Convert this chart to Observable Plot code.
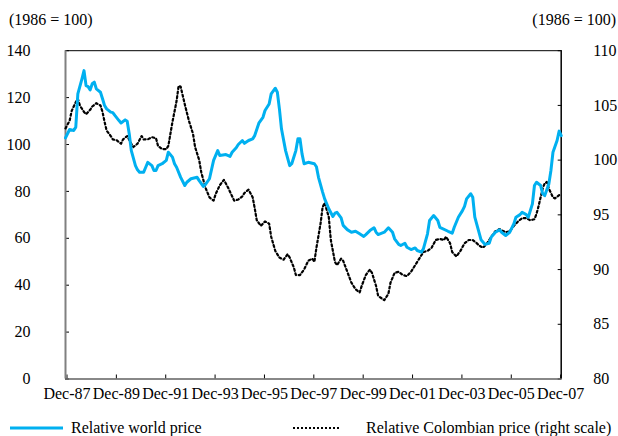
<!DOCTYPE html>
<html><head><meta charset="utf-8">
<script src="https://cdn.jsdelivr.net/npm/d3@7"></script>
<script src="https://cdn.jsdelivr.net/npm/@observablehq/plot@0.6"></script>
<style>
body{margin:0;background:#fff;font-family:"Liberation Serif","Times New Roman","DejaVu Serif",serif;font-size:16px;color:#000;}
#wrap{position:relative;width:618px;height:436px;overflow:hidden;background:#fff}
#head{position:relative;height:36px}
.unit{position:absolute;top:12px;line-height:1;white-space:nowrap}
#legend{position:relative;height:26px}
#legend span{position:absolute;top:10px;line-height:1;white-space:nowrap}
#legend svg{position:absolute;left:0;top:0}
svg text{font-family:"Liberation Serif","Times New Roman","DejaVu Serif",serif}
</style></head>
<body>
<div id="wrap">
  <div id="head"><span class="unit" style="left:9px">(1986 = 100)</span><span class="unit" style="right:2px">(1986 = 100)</span></div>
  <div id="chart"></div>
  <div id="legend">
    <svg width="618" height="26">
      <line x1="10" x2="63" y1="18" y2="18" stroke="#00B0F0" stroke-width="3"/>
      <line x1="293" x2="341" y1="18" y2="18" stroke="#000" stroke-width="2" stroke-dasharray="2,2"/>
    </svg>
    <span style="left:71px">Relative world price</span>
    <span style="left:366px">Relative Colombian price (right scale)</span>
  </div>
</div>
<script>
// month index: 0 = Dec-87
const xTickLabels = ["Dec-87","Dec-89","Dec-91","Dec-93","Dec-95","Dec-97","Dec-99","Dec-01","Dec-03","Dec-05","Dec-07"];
const leftTicks = [0,20,40,60,80,100,120,140];
const rightTicks = [80,85,90,95,100,105,110];

const worldMonth = [0,2,4,5,6,8,9,10,11,12,13,14,15,17,18,19,20,22,23,24,26,27,29,30,31,32,34,35,36,38,39,40,42,43,44,45,47,49,50,52,53,54,56,58,59,61,62,64,65,67,68,70,72,74,75,78,80,81,83,84,86,87,89,91,92,94,96,97,99,100,102,103,104,105,107,109,110,112,113,114,115,116,118,120,121,122,123,125,126,128,130,131,132,134,135,137,139,141,143,145,146,148,150,151,152,155,157,159,160,162,163,165,166,168,170,171,173,174,176,177,179,181,182,186,188,189,191,193,194,195,197,198,199,201,202,204,206,207,209,211,212,214,216,218,219,221,222,224,225,227,228,229,231,232,233,235,236,237,239,240,241];
const worldValue = [102.8,106.4,106,107.4,121.6,128,131.5,125.1,124.7,123.3,125.9,126.6,123.7,122.3,119.5,116.6,115.2,113.8,113.6,112.4,110.2,109.2,110.5,109.9,104.5,97.4,91,89.2,88.2,88.2,90.3,92.4,91,88.9,88.9,91,91.8,93.2,96.7,94.6,91.8,90.3,86,82.5,83.9,85.4,85.6,86,84.6,82.1,82.9,85.4,93.2,97.4,95.3,95.7,94.9,96.7,98.6,100,101.7,100.5,101.7,102.4,103.8,109.1,111.6,114.5,117.3,121.6,124,122.3,115.2,106.7,97.4,91,91.8,97.4,102.4,102.4,96,91.8,92.4,92,91.8,90.5,86,79.7,76.8,72.6,69.3,70.7,71.1,68.7,65.5,63.7,62.6,63,61.9,60.8,61.6,63.3,64.5,62.6,61.6,62.6,64.5,62.6,59.8,57.4,56.9,57.9,56.2,55.2,55.9,54.8,54.1,55.5,61.9,67.6,69.7,67.6,64.7,63,62.2,64.7,69,71.8,73.6,76.8,79,77.5,69,62.6,59.4,57.4,57.9,60.5,62.6,63.6,62.6,61.2,62.6,66.2,69,70.1,71.1,70.1,69,74.7,82.5,83.9,82.5,79,78.2,83.2,88.9,96.7,101.7,105.7,103.8];

const colMonth = [0,2,3,5,6,7,9,10,12,13,15,17,18,19,20,22,23,25,27,28,30,32,33,35,37,38,40,42,44,45,47,49,50,52,54,55,56,58,60,62,63,65,66,68,70,72,73,75,77,79,81,82,84,86,87,89,91,92,93,95,97,99,100,102,104,106,108,109,111,112,114,116,118,120,121,122,124,125,126,128,129,131,132,134,135,137,139,141,143,144,146,148,149,151,152,155,157,158,160,162,164,166,168,170,172,174,176,178,180,182,184,185,187,188,190,192,194,196,198,200,201,203,205,207,209,211,212,214,216,218,220,222,224,226,228,229,230,231,232,233,234,235,237,238,240,241];
const colValue = [102.9,103.6,104.5,105.3,105.6,105,104.4,104.2,104.6,104.9,105.2,105,104.4,103.5,102.7,102.2,101.9,101.8,101.5,101.9,102.2,101.5,101.2,101.5,102.2,101.9,101.9,102.1,102,101.3,101,101,101.3,103.5,105.4,106.8,106.7,105.1,103.6,102.4,101.2,100,98.9,97.5,96.6,96.3,96.9,97.7,98.2,97.5,96.7,96.3,96.4,96.7,97,97.3,96.6,95.6,94.5,94,94.4,94.2,93,91.7,91.1,90.9,91.4,91.1,90.2,89.5,89.5,90,90.8,91,90.7,92,94.2,95.7,96.1,94.8,92.7,90.7,90.4,91,90.8,89.8,88.8,88.2,87.9,88.5,89.5,90,89.7,88.5,87.6,87.2,87.8,88.8,89.7,89.8,89.5,89.4,89.8,90.4,91,91.6,91.7,92,92.7,92.8,92.7,93,92.4,91.6,91.2,91.7,92.4,92.7,92.7,92.4,92.2,92,92.4,93,93.5,93.7,93.6,93.4,93.5,94,94.4,94.7,94.7,94.5,94.6,95.1,95.8,96.6,97.4,97.9,98,97.4,96.6,96.5,96.8,96.8];

const k = 140 / 30; // right scale (80..110) onto left scale (0..140)
const toLeft = v => (v - 80) * k;
const world = worldMonth.map((m, i) => ({m, v: worldValue[i]}));
const col = colMonth.map((m, i) => ({m, v: toLeft(colValue[i])}));
const xTicks = xTickLabels.map((d, i) => i * 24);

const chart = Plot.plot({
  width: 618, height: 374,
  marginLeft: 65, marginRight: 57.3, marginTop: 14.2, marginBottom: 31.5,
  style: {fontFamily: "'Liberation Serif', 'Times New Roman', 'DejaVu Serif', serif", fontSize: "16px", color: "#000", background: "transparent", overflow: "visible"},
  x: {domain: [0, 241]},
  y: {domain: [0, 140]},
  marks: [
    Plot.axisY(leftTicks, {anchor: "left", tickSize: 4, insetLeft: 4, tickPadding: 35, label: null, tickFormat: d => d}),
    Plot.axisY(rightTicks.map(toLeft), {anchor: "right", tickSize: 4, insetRight: 4, tickPadding: 32, label: null, tickFormat: d => Math.round(d / k + 80)}),
    Plot.axisX(xTicks, {anchor: "bottom", tickSize: 4, insetBottom: 4, tickPadding: 8.6, label: null, dx: 1.5, tickFormat: d => xTickLabels[d / 24]}),
    Plot.ruleY([140], {stroke: "#000", strokeWidth: 1}),
    Plot.ruleX([241], {stroke: "#000", strokeWidth: 1.5}),
    Plot.ruleX([0], {stroke: "#808080", strokeWidth: 2}),
    Plot.ruleY([0], {stroke: "#606060", strokeWidth: 1.5}),
    Plot.line(col, {x: "m", y: "v", stroke: "#000", strokeWidth: 2.2, strokeDasharray: "2,2.6"}),
    Plot.line(world, {x: "m", y: "v", stroke: "#00B0F0", strokeWidth: 3})
  ]
});
document.getElementById("chart").appendChild(chart);
</script>
</body></html>
